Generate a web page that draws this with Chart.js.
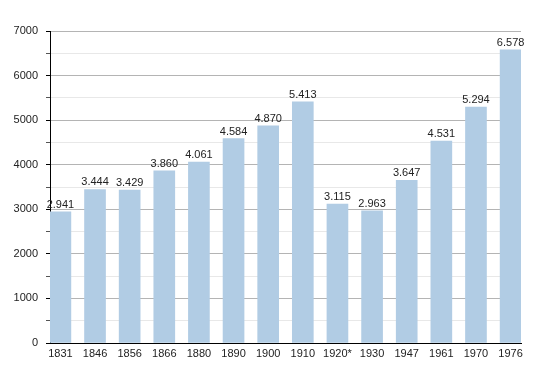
<!DOCTYPE html>
<html>
<head>
<meta charset="utf-8">
<script src="https://cdn.jsdelivr.net/npm/chart.js@4"></script>
<style>
    html, body { margin: 0; padding: 0; background: #fff; }
    #wrap { width: 550px; height: 373px; }
</style>
</head>
<body>
<div id="wrap"><canvas id="popChart"></canvas></div>
<script>
const years = ['1831', '1846', '1856', '1866', '1880', '1890', '1900', '1910', '1920*', '1930', '1947', '1961', '1970', '1976'];
const population = [2941, 3444, 3429, 3860, 4061, 4584, 4870, 5413, 3115, 2963, 3647, 4531, 5294, 6578];
const yTicks = [0, 1000, 2000, 3000, 4000, 5000, 6000, 7000];

const fontFamily = "'Liberation Sans', Arial, sans-serif";

// value labels above the bars, written like 2.941
const valueLabels = {
    id: 'valueLabels',
    afterDatasetsDraw(chart) {
        const ctx = chart.ctx;
        const meta = chart.getDatasetMeta(0);
        ctx.save();
        ctx.font = '11px ' + fontFamily;
        ctx.fillStyle = '#222';
        ctx.textAlign = 'center';
        ctx.textBaseline = 'alphabetic';
        meta.data.forEach((bar, i) => {
            const v = population[i];
            ctx.fillText((v / 1000).toFixed(3), bar.x, bar.y - 4);
        });
        ctx.restore();
    }
};

new Chart(document.getElementById('popChart'), {
    type: 'bar',
    data: {
        datasets: [{
            data: population.map((v, i) => ({ x: i, y: v })),
            backgroundColor: '#b1cce4',
            borderWidth: 0,
            barThickness: 21,
        }]
    },
    options: {
        responsive: true,
        maintainAspectRatio: false,
        animation: false,
        layout: { padding: { top: 31, right: 29, bottom: 0, left: 0 } },
        plugins: {
            legend: { display: false },
            tooltip: { enabled: false },
        },
        scales: {
            x: {
                type: 'linear',
                offset: false,
                min: -0.3,
                max: 13.3,
                afterBuildTicks: axis => {
                    axis.ticks = years.map((_, i) => ({ value: i }));
                },
                afterFit: axis => { axis.height = 30; },
                grid: { display: false, drawTicks: false },
                border: { display: true, color: '#000', width: 1 },
                ticks: {
                    padding: 4,
                    autoSkip: false,
                    maxRotation: 0,
                    color: '#222',
                    font: { size: 11, family: fontFamily },
                    callback: value => years[value],
                },
            },
            y: {
                min: 0,
                max: 7000,
                afterBuildTicks: axis => {
                    const t = [];
                    for (let v = 0; v <= 7000; v += 500) t.push({ value: v });
                    axis.ticks = t;
                },
                afterFit: axis => { axis.width = 50; },
                border: { display: true, color: '#000', width: 1 },
                grid: {
                    color: c => (c.tick && c.tick.value % 1000 === 0) ? '#b4b4b4' : '#e8e8e8',
                    tickColor: c => (c.tick && c.tick.value % 1000 === 0) ? '#000' : '#555',
                    tickLength: 4,
                },
                ticks: {
                    padding: 8,
                    color: '#222',
                    font: { size: 11, family: fontFamily },
                    callback: value => yTicks.includes(value) ? String(value) : '',
                },
            },
        },
    },
    plugins: [valueLabels],
});
</script>
</body>
</html>
